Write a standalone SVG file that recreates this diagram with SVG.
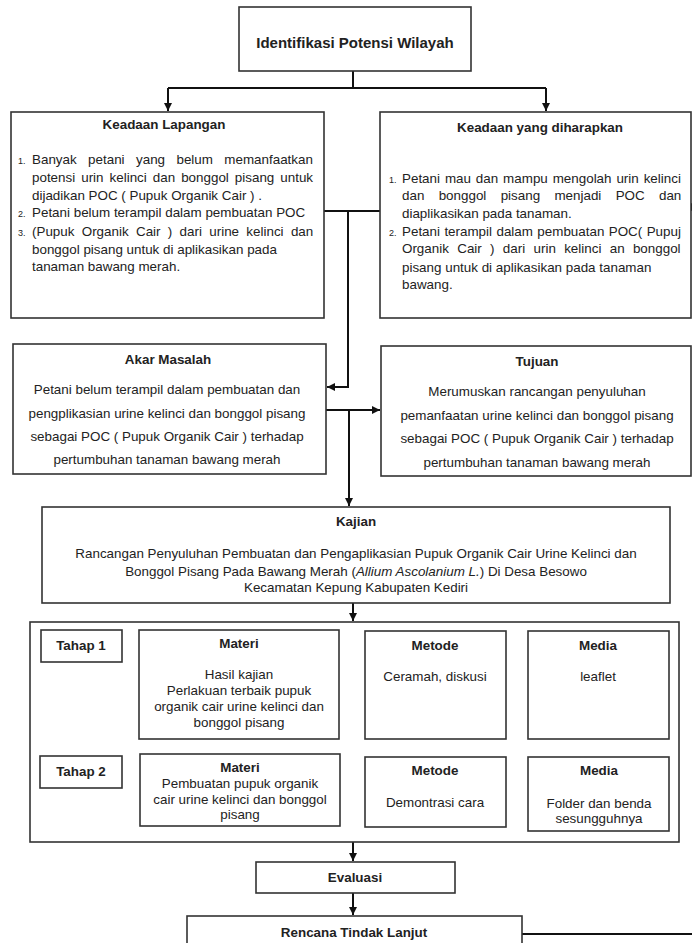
<svg xmlns="http://www.w3.org/2000/svg" width="692" height="943" viewBox="0 0 692 943">
<defs>
<style>
.box{fill:#fff;stroke:#333;stroke-width:1.6}
.con{fill:none;stroke:#111;stroke-width:2}
.t{font-family:"Liberation Sans",Arial,sans-serif;font-size:13.4px;fill:#222}
.b{font-weight:bold}
.c{text-anchor:middle}
.n{font-size:9px}
</style>
<marker id="ah" markerUnits="userSpaceOnUse" markerWidth="9" markerHeight="9" refX="8" refY="4" orient="auto">
<path d="M0,0 L8,4 L0,8 z" fill="#111"/>
</marker>
</defs>
<rect width="692" height="943" fill="#fff"/>

<g id="connectors">
<path class="con" d="M353,71 V88"/>
<path class="con" d="M168,88 H546"/>
<path class="con" d="M168,88 V111" marker-end="url(#ah)"/>
<path class="con" d="M546,88 V111" marker-end="url(#ah)"/>
<path class="con" d="M324,211 H380"/>
<path class="con" d="M348,211 V387 H327" marker-end="url(#ah)"/>
<path class="con" d="M326,410 H380" marker-end="url(#ah)"/>
<path class="con" d="M349,410 V506" marker-end="url(#ah)"/>
<path class="con" d="M353,603 V621" marker-end="url(#ah)"/>
<path class="con" d="M122,646 H138" marker-end="url(#ah)"/>
<path class="con" d="M339,648 H364" marker-end="url(#ah)"/>
<path class="con" d="M506,648 H527" marker-end="url(#ah)"/>
<path class="con" d="M122,767 H139" marker-end="url(#ah)"/>
<path class="con" d="M340,767 H364" marker-end="url(#ah)"/>
<path class="con" d="M506,772 H527" marker-end="url(#ah)"/>
<path class="con" d="M353,842 V861" marker-end="url(#ah)"/>
<path class="con" d="M353,893 V915" marker-end="url(#ah)"/>
<path class="con" d="M522,934 H692"/>
<path d="M684,207 L693,202.5 L693,211.5 z" fill="#111"/>
</g>

<g id="identifikasi">
<rect class="box" x="239" y="7" width="232" height="64"/>
<text class="t b c" x="355" y="48" style="font-size:15px">Identifikasi Potensi Wilayah</text>
</g>

<g id="keadaan-lapangan">
<rect class="box" x="11" y="112" width="313" height="206"/>
<text class="t b c" x="164" y="129">Keadaan Lapangan</text>
<text class="t n" x="18" y="164">1.</text>
<text class="t" x="32" y="164" word-spacing="7.7">Banyak petani yang belum memanfaatkan</text>
<text class="t" x="32" y="182" word-spacing="2.3">potensi urin kelinci dan bonggol pisang untuk</text>
<text class="t" x="32" y="200">dijadikan POC ( Pupuk Organik Cair ) .</text>
<text class="t n" x="18" y="217">2.</text>
<text class="t" x="32" y="217">Petani belum terampil dalam pembuatan POC</text>
<text class="t n" x="18" y="236">3.</text>
<text class="t" x="32" y="236" word-spacing="3.6">(Pupuk Organik Cair ) dari urine kelinci dan</text>
<text class="t" x="32" y="254">bonggol pisang untuk di aplikasikan pada</text>
<text class="t" x="32" y="271">tanaman bawang merah.</text>
</g>

<g id="keadaan-diharapkan">
<rect class="box" x="380" y="112" width="311" height="206"/>
<text class="t b c" x="540" y="132">Keadaan yang diharapkan</text>
<text class="t n" x="389" y="183">1.</text>
<text class="t" x="402" y="183" word-spacing="1.2">Petani mau dan mampu mengolah urin kelinci</text>
<text class="t" x="402" y="200" word-spacing="10.6">dan bonggol pisang menjadi POC dan</text>
<text class="t" x="402" y="218">diaplikasikan pada tanaman.</text>
<text class="t n" x="389" y="236">2.</text>
<text class="t" x="402" y="236" word-spacing="0.7">Petani terampil dalam pembuatan POC( Pupuj</text>
<text class="t" x="402" y="253" word-spacing="4.6">Organik Cair ) dari urin kelinci an bonggol</text>
<text class="t" x="402" y="272">pisang untuk di aplikasikan pada tanaman</text>
<text class="t" x="402" y="289">bawang.</text>
</g>

<g id="akar-masalah">
<rect class="box" x="13" y="344" width="313" height="130"/>
<text class="t b c" x="168" y="364">Akar Masalah</text>
<text class="t c" x="167" y="394">Petani belum terampil dalam pembuatan dan</text>
<text class="t c" x="167" y="418">pengplikasian urine kelinci dan bonggol pisang</text>
<text class="t c" x="167" y="441">sebagai POC ( Pupuk Organik Cair ) terhadap</text>
<text class="t c" x="167" y="464">pertumbuhan tanaman bawang merah</text>
</g>

<g id="tujuan">
<rect class="box" x="381" y="346" width="310" height="130"/>
<text class="t b c" x="537" y="366">Tujuan</text>
<text class="t c" x="537" y="396">Merumuskan rancangan penyuluhan</text>
<text class="t c" x="537" y="420">pemanfaatan urine kelinci dan bonggol pisang</text>
<text class="t c" x="537" y="443">sebagai POC ( Pupuk Organik Cair ) terhadap</text>
<text class="t c" x="537" y="467">pertumbuhan tanaman bawang merah</text>
</g>

<g id="kajian">
<rect class="box" x="42" y="507" width="628" height="96"/>
<text class="t b c" x="356" y="526">Kajian</text>
<text class="t c" x="356" y="558">Rancangan Penyuluhan Pembuatan dan Pengaplikasian Pupuk Organik Cair Urine Kelinci dan</text>
<text class="t c" x="356" y="576">Bonggol Pisang Pada Bawang Merah (<tspan font-style="italic">Allium Ascolanium L.</tspan>) Di Desa Besowo</text>
<text class="t c" x="356" y="592">Kecamatan Kepung Kabupaten Kediri</text>
</g>

<g id="tahapan">
<rect class="box" x="30" y="622" width="649" height="220"/>
</g>

<g id="tahap1">
<rect class="box" x="41" y="630" width="81" height="32"/>
<text class="t b c" x="81" y="650">Tahap 1</text>
</g>
<g id="materi1">
<rect class="box" x="139" y="630" width="200" height="109"/>
<text class="t b c" x="239" y="648">Materi</text>
<text class="t c" x="239" y="679">Hasil kajian</text>
<text class="t c" x="239" y="695">Perlakuan terbaik pupuk</text>
<text class="t c" x="239" y="711">organik cair urine kelinci dan</text>
<text class="t c" x="239" y="727">bonggol pisang</text>
</g>
<g id="metode1">
<rect class="box" x="365" y="631" width="141" height="108"/>
<text class="t b c" x="435" y="650">Metode</text>
<text class="t c" x="435" y="681">Ceramah, diskusi</text>
</g>
<g id="media1">
<rect class="box" x="528" y="631" width="141" height="108"/>
<text class="t b c" x="598" y="650">Media</text>
<text class="t c" x="598" y="681">leaflet</text>
</g>

<g id="tahap2">
<rect class="box" x="40" y="756" width="82" height="32"/>
<text class="t b c" x="81" y="776">Tahap 2</text>
</g>
<g id="materi2">
<rect class="box" x="140" y="754" width="200" height="72"/>
<text class="t b c" x="240" y="772">Materi</text>
<text class="t c" x="240" y="788">Pembuatan pupuk organik</text>
<text class="t c" x="240" y="804">cair urine kelinci dan bonggol</text>
<text class="t c" x="240" y="819">pisang</text>
</g>
<g id="metode2">
<rect class="box" x="365" y="757" width="141" height="70"/>
<text class="t b c" x="435" y="775">Metode</text>
<text class="t c" x="435" y="807">Demontrasi cara</text>
</g>
<g id="media2">
<rect class="box" x="528" y="757" width="141" height="74"/>
<text class="t b c" x="599" y="775">Media</text>
<text class="t c" x="599" y="808">Folder dan benda</text>
<text class="t c" x="599" y="823">sesungguhnya</text>
</g>

<g id="evaluasi">
<rect class="box" x="256" y="862" width="199" height="31"/>
<text class="t b c" x="355" y="882">Evaluasi</text>
</g>

<g id="rencana">
<rect class="box" x="187" y="916" width="335" height="40"/>
<text class="t b c" x="354" y="937">Rencana Tindak Lanjut</text>
</g>
</svg>
